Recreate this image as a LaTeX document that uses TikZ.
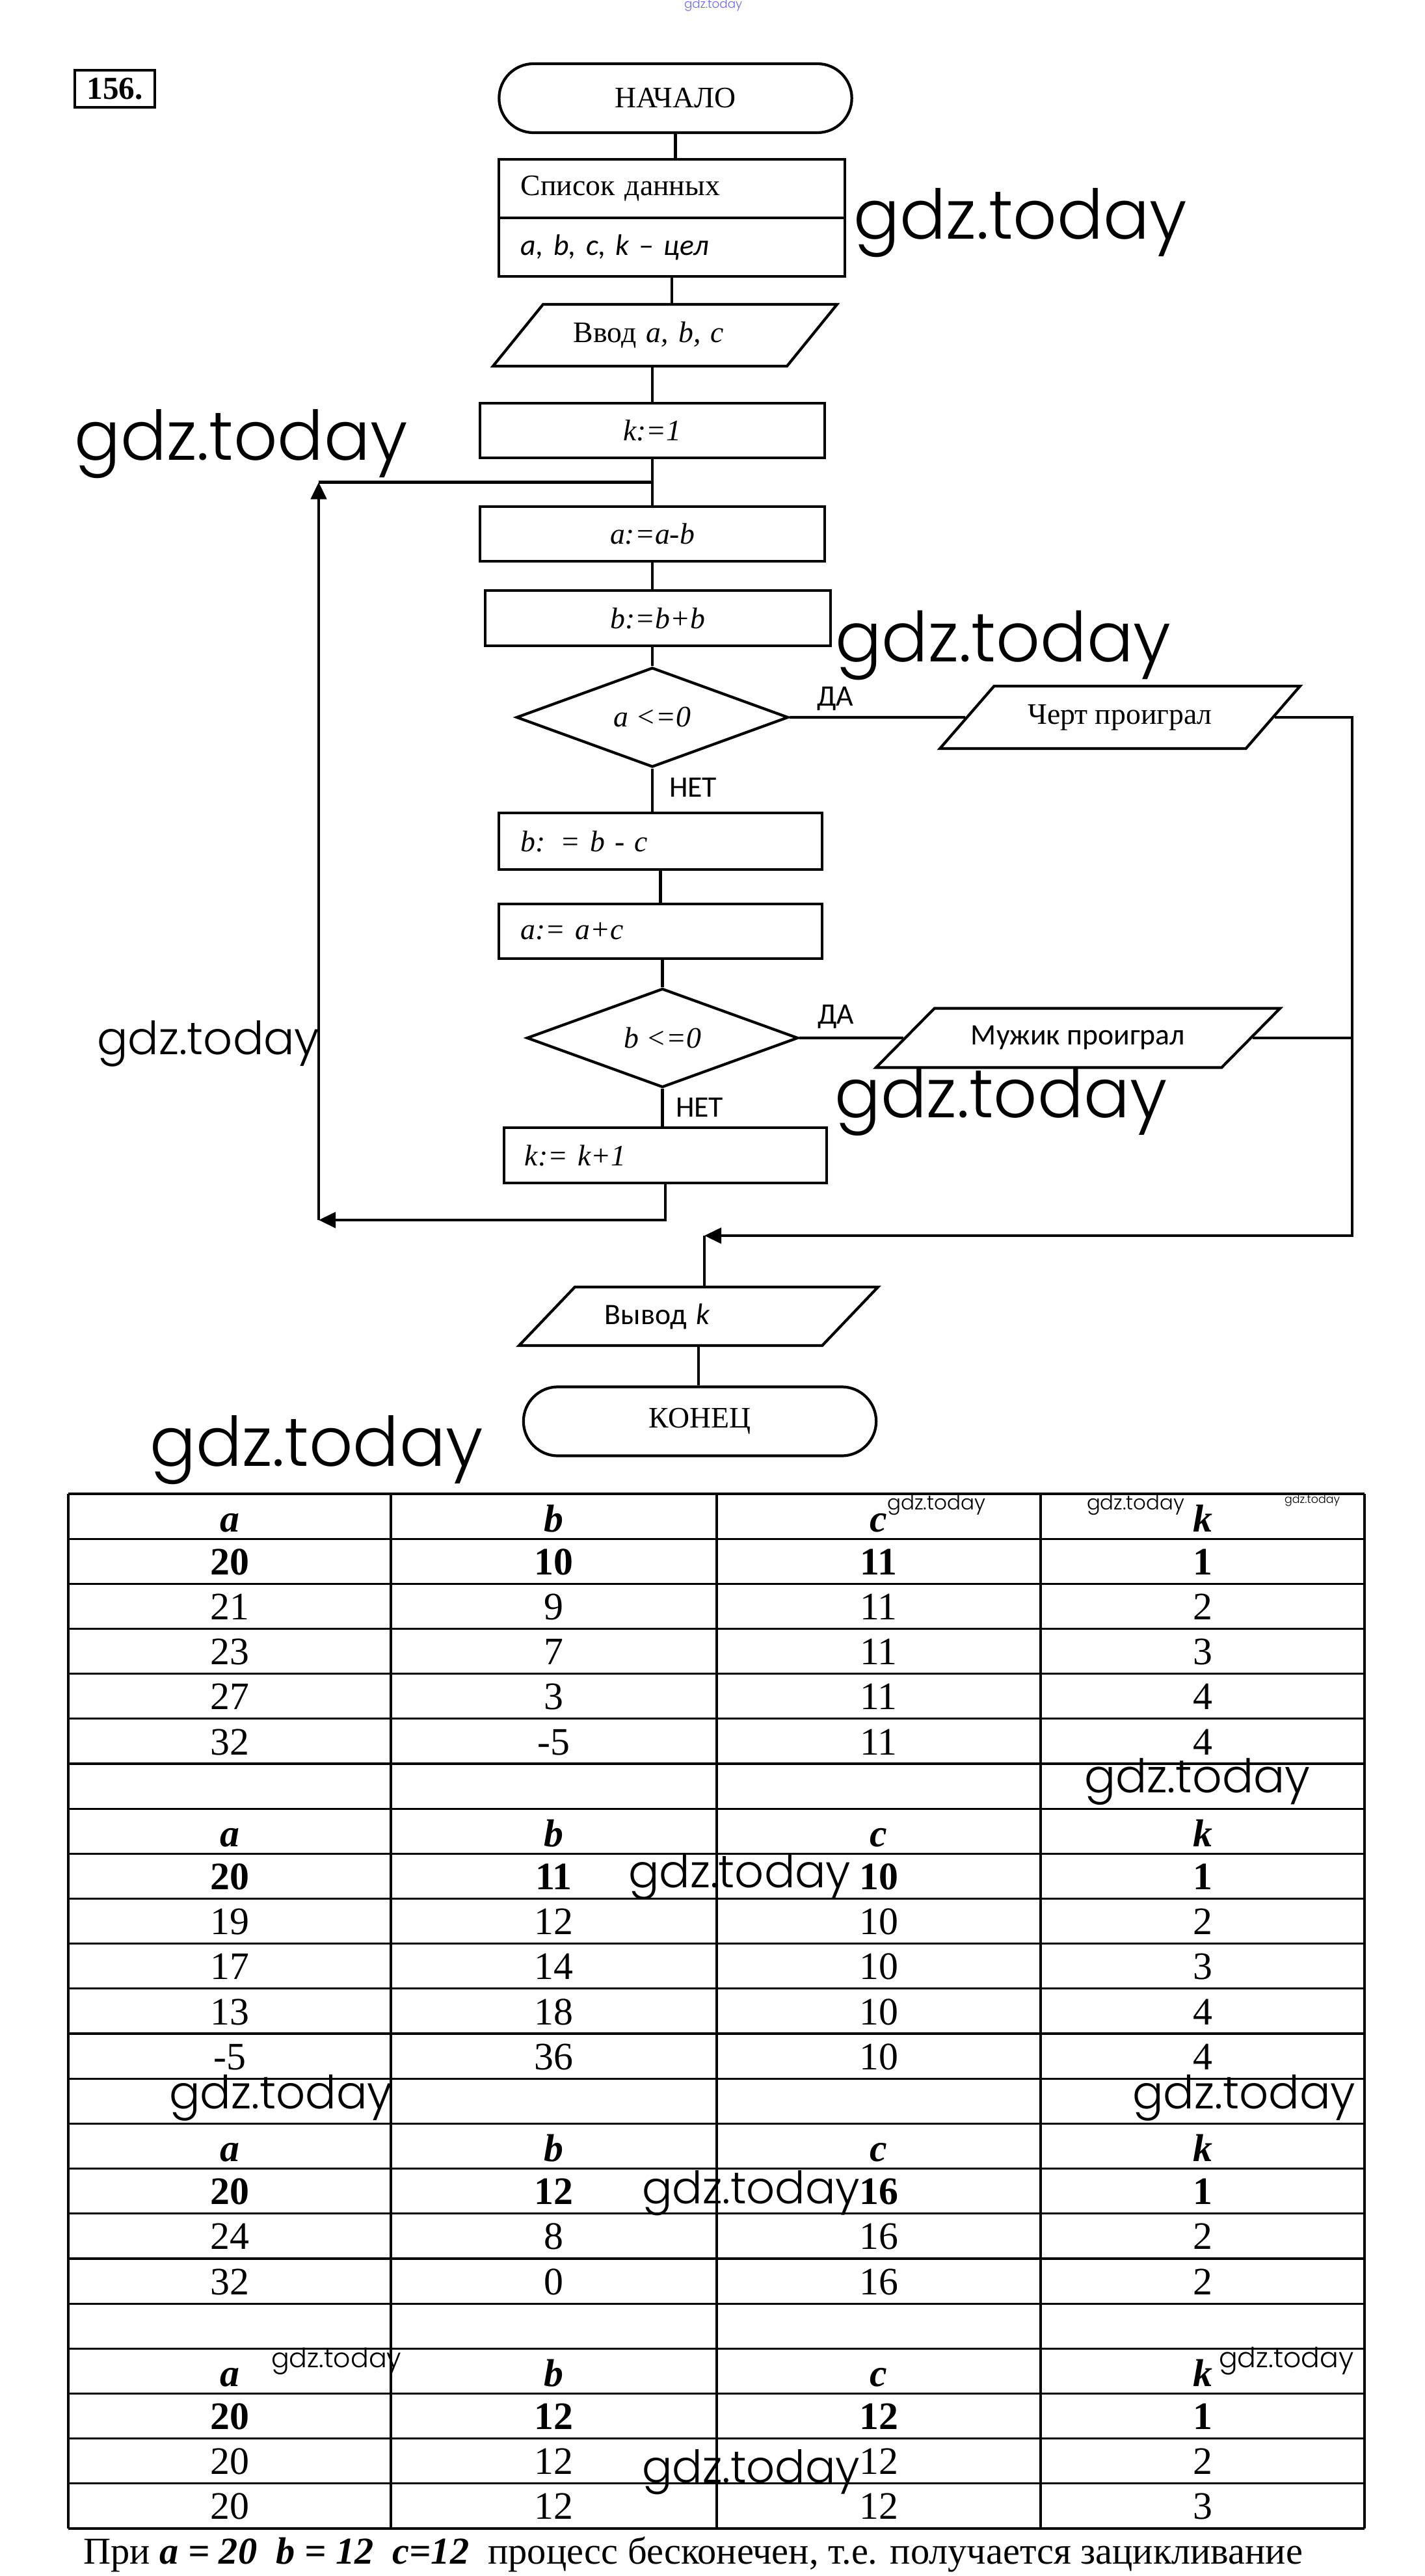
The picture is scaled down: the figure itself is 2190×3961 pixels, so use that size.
\documentclass[tikz,border=0pt]{standalone}
\usepackage{fontspec}
\setmainfont{Liberation Serif}
\newfontfamily\calib{Carlito}
\IfFontExistsTF{Poppins Light}{\newfontfamily\wmfont{Poppins Light}}{\newfontfamily\wmfont{Poppins}}
\usetikzlibrary{shapes.geometric,arrows.meta,calc}
\newcommand{\wmark}[1]{\resizebox{#1cm}{!}{\wmfont gdz.today}}

\begin{document}
\begin{tikzpicture}[x=0.01cm, y=-0.01cm, line width=1.2pt, >={Triangle[length=2.6mm,width=2.4mm]},
every node/.style={font=\fontsize{13}{15}\selectfont},
term/.style={draw, rectangle, rounded corners=5.3mm, minimum width=5.42cm, minimum height=1.06cm},
proc/.style={draw, rectangle, minimum width=5.3cm, minimum height=0.84cm},
io/.style={draw, trapezium, trapezium stretches=true, inner sep=2pt},
cond/.style={draw, diamond, inner sep=0pt, minimum width=4.18cm, minimum height=1.53cm, font=\itshape\fontsize{13}{15}\selectfont},
lbl/.style={inner sep=0pt, anchor=base west, font=\calib\fontsize{13}{15}\selectfont},
wm/.style={inner sep=0pt, anchor=south west},
cell/.style={inner sep=0pt, anchor=base, font=\fontsize{17}{20}\selectfont},
head/.style={cell, font=\bfseries\itshape\fontsize{17}{20}\selectfont},
bold/.style={cell, font=\bfseries\fontsize{17}{20}\selectfont},
tbl/.style={line width=0.9pt}]
\useasboundingbox (0,0) rectangle (2190,3961);

\node[draw, line width=1pt, minimum width=1.23cm, minimum height=0.57cm, inner sep=0pt, font=\bfseries\fontsize{14}{16}\selectfont] (num) at (176.5,136.5) {156.};

\begin{scope}
\node[term] (start) at (1038.5,151) {НАЧАЛО};
\node[proc, minimum width=5.32cm, minimum height=0.9cm, text width=4.64cm, align=left] (data1) at (1033,290) {Список данных};
\node[proc, minimum width=5.32cm, minimum height=0.9cm, text width=4.64cm, align=left, font=\calib\itshape\fontsize{13}{15}\selectfont] (data2) at (1033,380) {a, b, c, k – цел};
\node[io, trapezium left angle=42, trapezium right angle=138, minimum width=5.29cm, minimum height=0.95cm, text width=2.81cm, align=left] (inp) at (1022.5,515.5) {Ввод \textit{a, b, c}};
\node[proc] (k1) at (1003,662) {\textit{k:=1}};
\node[proc] (a1) at (1003,821) {\textit{a:=a-b}};
\node[proc, minimum height=0.85cm] (b1) at (1011.5,950.5) {\textit{b:=b+b}};
\node[cond] (d1) at (1003,1103) {a <=0};
\node[io, trapezium left angle=40, trapezium right angle=140, minimum width=5.54cm, minimum height=0.96cm] (cert) at (1722,1103) {Черт проиграл};
\node[proc, minimum width=4.97cm, minimum height=0.87cm, text width=4.3cm, align=left] (b2) at (1015.5,1293.5) {\textit{b: = b - c}};
\node[proc, minimum width=4.97cm, text width=4.3cm, align=left] (a2) at (1015.5,1432) {\textit{a:= a+c}};
\node[cond, minimum width=4.17cm, minimum height=1.52cm] (d2) at (1018.5,1596) {b <=0};
\node[io, trapezium left angle=36, trapezium right angle=144, minimum width=6.21cm, minimum height=0.91cm, font=\calib\fontsize{13}{15}\selectfont] (mu) at (1657.5,1596) {Мужик проиграл};
\node[proc, minimum width=4.96cm, minimum height=0.85cm, text width=4.32cm, align=left] (kk) at (1023,1776.5) {\textit{k:= k+1}};
\node[io, trapezium left angle=38, trapezium right angle=142, minimum width=5.52cm, minimum height=0.9cm, text width=2.88cm, align=left, font=\calib\fontsize{13}{15}\selectfont] (out) at (1074,2024) {Вывод \textit{k}};
\node[term] (fin) at (1076,2185.5) {КОНЕЦ};
\node[lbl] (yes1) at (1254,1085) {ДА};
\node[lbl] (no1) at (1027,1225) {НЕТ};
\node[lbl] (yes2) at (1255,1574) {ДА};
\node[lbl] (no2) at (1037,1717) {НЕТ};
\end{scope}

\begin{scope}
\coordinate (j) at ($(k1.south)!0.5!(a1.north)$);
\coordinate (lb) at (490,1876);
\coordinate (rb) at (2079,1900);
\coordinate (ret) at (1083,1900);
\draw (start.south) -- (start.south |- data1.north);
\draw (data2.south) -- (data2.south |- inp.north);
\draw (k1.north) -- (k1.north |- inp.south);
\draw (k1.south) -- (a1.north);
\draw (a1.south) -- (a1.south |- b1.north);
\draw (d1.north) -- (d1.north |- b1.south);
\draw (d1.east) -- (cert.west);
\draw (d1.south) -- (d1.south |- b2.north);
\draw (b2.south) -- (b2.south |- a2.north);
\draw (d2.north) -- (d2.north |- a2.south);
\draw (d2.east) -- (mu.west);
\draw (d2.south) -- (d2.south |- kk.north);
\draw[->] (kk.south) |- (lb);
\draw[->] (lb) -- (lb |- j);
\draw (lb |- j) -- (j);
\draw[->] (cert.east) -| (rb) -- (ret);
\draw (mu.east) -- (mu.east -| rb);
\draw (ret) -- (ret |- out.north);
\draw (out.south) -- (out.south |- fin.north);
\end{scope}

% table
\begin{scope}
\foreach \i in {0,...,23}
  \draw[tbl] (105,{2297+69.17*\i}) -- (2098,{2297+69.17*\i});
\foreach \x in {105,601,1102,1600,2098}
  \draw[tbl] (\x,2297) -- (\x,3888);
\foreach \r in {0,7,14,19}{
  \node[head] (h\r-a) at (353,{2297+69.17*(\r+1)-11}) {a};
  \node[head] (h\r-b) at (851.5,{2297+69.17*(\r+1)-11}) {b};
  \node[head] (h\r-c) at (1351,{2297+69.17*(\r+1)-11}) {c};
  \node[head] (h\r-k) at (1849,{2297+69.17*(\r+1)-11}) {k};
}
\foreach \r/\va/\vb/\vc/\vk in {1/20/10/11/1, 8/20/11/10/1, 15/20/12/16/1, 20/20/12/12/1}{
  \node[bold] (r\r-a) at (353,{2297+69.17*(\r+1)-14}) {\va};
  \node[bold] (r\r-b) at (851.5,{2297+69.17*(\r+1)-14}) {\vb};
  \node[bold] (r\r-c) at (1351,{2297+69.17*(\r+1)-14}) {\vc};
  \node[bold] (r\r-k) at (1849,{2297+69.17*(\r+1)-14}) {\vk};
}
\foreach \r/\va/\vb/\vc/\vk in {2/21/9/11/2, 3/23/7/11/3, 4/27/3/11/4, 5/32/-5/11/4,
  9/19/12/10/2, 10/17/14/10/3, 11/13/18/10/4, 12/-5/36/10/4,
  16/24/8/16/2, 17/32/0/16/2, 21/20/12/12/2, 22/20/12/12/3}{
  \node[cell] (r\r-a) at (353,{2297+69.17*(\r+1)-14}) {\va};
  \node[cell] (r\r-b) at (851.5,{2297+69.17*(\r+1)-14}) {\vb};
  \node[cell] (r\r-c) at (1351,{2297+69.17*(\r+1)-14}) {\vc};
  \node[cell] (r\r-k) at (1849,{2297+69.17*(\r+1)-14}) {\vk};
}
\end{scope}

\node[anchor=base west, inner sep=0pt, font=\fontsize{16.6}{19}\selectfont] (note) at (126,3942) {При \textbf{\textit{a = 20\ \ b = 12\ \ c=12}}\ \ процесс бесконечен, т.е. получается зацикливание};

% watermarks
\node[wm, text=blue!60] (wm0) at (1050,20) {\wmark{0.89}};
\foreach \x/\y/\w [count=\n] in {1310/398/5.13, 112/738/5.12, 1282/1048/5.16, 147/1642/3.42,
  1281/1749/5.11, 228/2285/5.12, 1362/2332/1.51, 1669/2332/1.50, 1973/2318/0.85,
  1665/2778/3.47, 964/2923/3.42, 258/3263/3.43, 1739/3263/3.43, 985/3409/3.35,
  415/3654/2.00, 1872/3654/2.07, 985/3838/3.35}
  \node[wm] (wm\n) at (\x,\y) {\wmark{\w}};
\end{tikzpicture}
\end{document}
